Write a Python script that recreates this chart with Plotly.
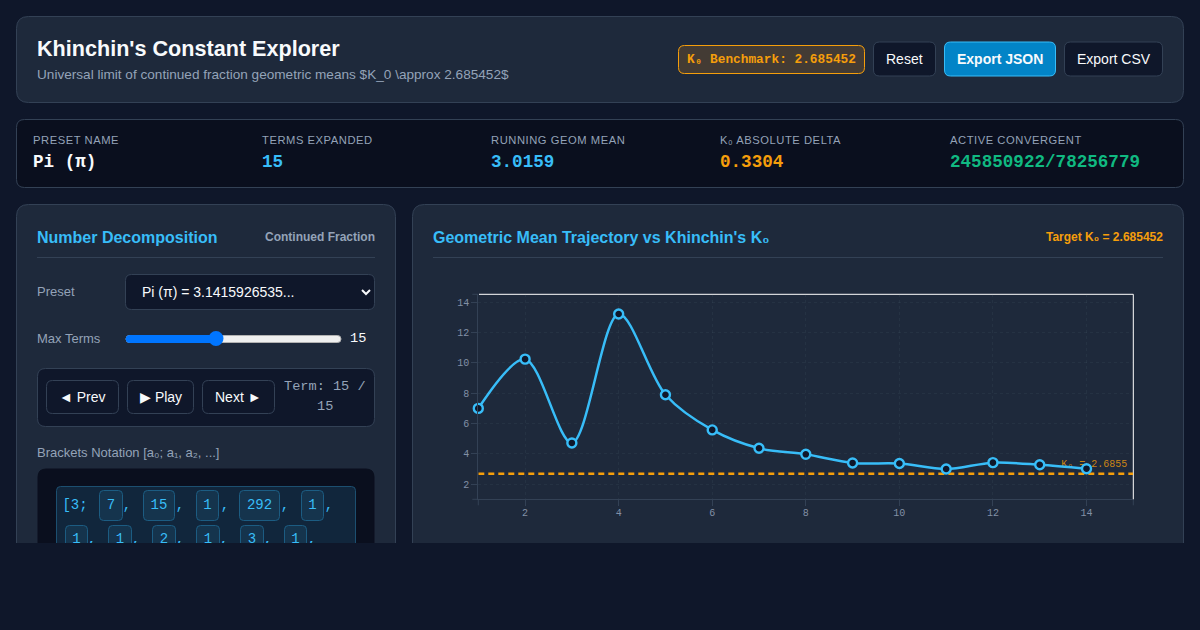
import plotly.graph_objects as go

term_index = list(range(1, 15))
geom_mean = [7.0, 10.25, 4.72, 13.23, 7.9, 5.58, 4.37, 3.97, 3.4, 3.36, 3.0, 3.42, 3.28, 3.02]
k0_x = [1, 15]
k0_y = [2.6855, 2.6855]
k0_label = "K₀ = 2.6855"

kpi_labels = ["PRESET NAME", "TERMS EXPANDED", "RUNNING GEOM MEAN", "K₀ ABSOLUTE DELTA", "ACTIVE CONVERGENT"]
kpi_values = ["Pi (π)", "15", "3.0159", "0.3304", "245850922/78256779"]
row1_terms = ["7", "15", "1", "292", "1"]
row2_terms = ["1", "1", "2", "1", "3", "1"]

BG = "#0f172a"
CARD = "#1e293b"
DARK = "#0a0f1e"
NAVY = "#0f172a"
BORDER = "#334155"
BLUE = "#38bdf8"
AMBER = "#f59e0b"
GREEN = "#10b981"
MUTED = "#94a3b8"
SANS = "Liberation Sans"
MONO = "Liberation Mono"

shapes = []
notes = []


def box(x0, y0, x1, y1, r, fill, line=None, width=1):
    path = (f"M {x0+r} {y0} L {x1-r} {y0} Q {x1} {y0} {x1} {y0+r} L {x1} {y1-r} Q {x1} {y1} {x1-r} {y1} "
            f"L {x0+r} {y1} Q {x0} {y1} {x0} {y1-r} L {x0} {y0+r} Q {x0} {y0} {x0+r} {y0} Z")
    shapes.append(dict(type="path", path=path, xref="x", yref="y", fillcolor=fill, layer="below",
                       line=dict(color=line or fill, width=width)))


def seg(x0, y0, x1, y1, color, width=1):
    shapes.append(dict(type="line", x0=x0, y0=y0, x1=x1, y1=y1, xref="x", yref="y", layer="below",
                       line=dict(color=color, width=width)))


def label(x, y, text, size=13, color="#f8fafc", font=SANS, bold=False, anchor="left"):
    if bold:
        text = f"<b>{text}</b>"
    # annotations sit about a pixel inside their anchor
    nudge = {"left": -1, "right": 1, "center": 0}[anchor]
    notes.append(dict(x=x + nudge, y=y, text=text, xref="x", yref="y", xanchor=anchor, yanchor="middle",
                      showarrow=False, borderpad=0, font=dict(size=size, color=color, family=font)))


def button(x0, x1, text, fill=NAVY, line=BORDER, bold=False, y0=42, y1=76):
    box(x0, y0, x1, y1, 6, fill, line)
    label((x0 + x1) / 2, (y0 + y1) / 2, text, 14, "#f8fafc", SANS, bold, "center")


# header
box(16.5, 16.5, 1183.5, 102.5, 12, CARD, BORDER)
label(37, 48, "Khinchin's Constant Explorer", 21.6, "#f8fafc", SANS, True)
label(37, 74, "Universal limit of continued fraction geometric means $K_0 \\approx 2.685452$", 13.6, MUTED)
box(678.5, 45.5, 864.5, 73.5, 6, "#433b34", AMBER)
label(771.5, 59.5, "K₀ Benchmark: 2.685452", 12.8, AMBER, MONO, True, "center")
button(873.5, 935.5, "Reset")
button(944.5, 1055.5, "Export JSON", "#0284c7", BLUE, True)
button(1064.5, 1162.5, "Export CSV")

# stats strip
box(16.5, 119.5, 1183.5, 187.5, 8, DARK, BORDER)
kpi_x = [33, 262, 491, 720, 950]
kpi_colors = ["#f8fafc", BLUE, BLUE, AMBER, GREEN]
for px, name, val, col in zip(kpi_x, kpi_labels, kpi_values, kpi_colors):
    label(px, 140, f'<span style="letter-spacing:0.55px">{name}</span>', 11.2, MUTED)
    label(px, 161.5, val, 17.6, col, MONO, True)

# left panel
box(16.5, 204.5, 395.5, 640, 12, CARD, BORDER)
label(37, 237, "Number Decomposition", 16, BLUE, SANS, True)
label(375, 237, "Continued Fraction", 12, MUTED, SANS, True, "right")
seg(37, 257.5, 375, 257.5, BORDER)
label(37, 291.5, "Preset", 13, MUTED)
box(125.5, 274.5, 374.5, 309.5, 6, NAVY, BORDER)
label(142, 292, "Pi (π) = 3.1415926535...", 14, "#f8fafc")
shapes.append(dict(type="path", path="M 362 290 L 366 294 L 370 290", xref="x", yref="y", layer="below",
                   line=dict(color="#f8fafc", width=2)))
label(37, 338.5, "Max Terms", 13, MUTED)
box(126, 335.5, 341, 342.5, 3.5, "#efefef", "#b2b2b2")
box(126, 335.5, 216, 342.5, 3.5, "#0075ff", "#0075ff")
shapes.append(dict(type="circle", x0=208.5, x1=223.5, y0=331, y1=346, xref="x", yref="y", layer="below",
                   fillcolor="#0075ff", line=dict(color="#0075ff", width=0)))
label(350, 338, "15", 13.6, "#f8fafc", MONO)
box(37.5, 368.5, 374.5, 426.5, 8, NAVY, BORDER)
button(46.5, 118.5, "◄ Prev", y0=380.5, y1=413.5)
button(127.5, 193.5, "▶ Play", y0=380.5, y1=413.5)
button(202.5, 274.5, "Next ►", y0=380.5, y1=413.5)
label(324.5, 386, "Term: 15 /", 13.6, MUTED, MONO, anchor="center")
label(324.5, 406, "15", 13.6, MUTED, MONO, anchor="center")
label(37, 452.5, "Brackets Notation [a₀; a₁, a₂, ...]", 13, MUTED)
box(38, 469, 374, 640, 8, DARK)
box(56.5, 486.5, 355.5, 640, 4, "#11263c", "#1c4f70")

row1_edges = [(99.5, 122.5), (143.5, 174.5), (196.5, 218.5), (239.5, 279.5), (301.5, 323.5)]
row2_edges = [(65.5, 87.5), (108.5, 131.5), (152.5, 175.5), (196.5, 219.5), (240.5, 263.5), (284.5, 306.5)]
for x0, x1 in row1_edges:
    box(x0, 490.5, x1, 520.5, 4, "#15344d", "#1c5c82")
for x0, x1 in row2_edges:
    box(x0, 525.5, x1, 600, 4, "#15344d", "#1c5c82")

# chart panel
box(412.5, 204.5, 1183.5, 640, 12, CARD, BORDER)
label(433, 237, "Geometric Mean Trajectory vs Khinchin's K₀", 16, BLUE, SANS, True)
label(1163, 237, "Target K₀ = 2.685452", 12, AMBER, SANS, True, "right")
seg(433, 257.5, 1163, 257.5, BORDER)

# outer ticks and the stray white edges of the chart frame
seg(472.3, 294.3, 478.3, 294.3, BORDER)
seg(472.3, 499.3, 478.3, 499.3, BORDER)
seg(478.3, 499.3, 478.3, 505.3, BORDER)
seg(1133.3, 499.3, 1133.3, 505.3, BORDER)
seg(479, 294.3, 1133.3, 294.3, "#ffffff")
seg(1133.3, 294.3, 1133.3, 499.3, "#ffffff")

fig = go.Figure()

# bracket text sits in the clipped page subplot so the second row is cut at the page edge
bx = [75, 111, 159, 207.5, 259.5, 312.5] + [76.5, 120, 164, 208, 252, 295.5]
by = [505] * 6 + [539.5] * 6
fig.add_trace(go.Scatter(x=bx, y=by, mode="text", text=["[3;"] + row1_terms + row2_terms,
                         textfont=dict(family=MONO, size=14, color=BLUE), xaxis="x", yaxis="y",
                         hoverinfo="skip", showlegend=False))
cx = [127, 180, 225, 285, 329, 92, 136, 180, 224, 268, 312]
cy = [505] * 5 + [539.5] * 6
fig.add_trace(go.Scatter(x=cx, y=cy, mode="text", text=[","] * 11,
                         textfont=dict(family=MONO, size=14, color=BLUE), xaxis="x", yaxis="y",
                         hoverinfo="skip", showlegend=False))

fig.add_trace(go.Scatter(x=[14.87], y=[3.27], mode="text", text=[k0_label], textposition="middle left",
                         textfont=dict(family=MONO, size=10, color="rgba(245,158,11,0.8)"),
                         xaxis="x2", yaxis="y2", hoverinfo="skip", showlegend=False, cliponaxis=False))
fig.add_trace(go.Scatter(x=k0_x, y=k0_y, mode="lines", line=dict(color=AMBER, width=2.4, dash="6px,4px"),
                         xaxis="x2", yaxis="y2", hoverinfo="skip", showlegend=False, cliponaxis=False))
fig.add_trace(go.Scatter(x=term_index, y=geom_mean, mode="lines+markers",
                         line=dict(color=BLUE, width=2.5, shape="spline", smoothing=0.9),
                         marker=dict(size=9, color=NAVY, line=dict(color=BLUE, width=2.4)),
                         xaxis="x2", yaxis="y2", showlegend=False, cliponaxis=False))

axis_style = dict(showline=True, linecolor=BORDER, linewidth=1, ticks="outside", ticklen=6, tickcolor=BORDER,
                  tickfont=dict(family=MONO, size=10, color="#8290a6"), showgrid=True,
                  gridcolor="rgba(148,163,184,0.07)", griddash="dot", zeroline=False, fixedrange=True)

fig.update_layout(
    width=1200, height=630, margin=dict(l=0, r=0, t=0, b=0, pad=0),
    paper_bgcolor=BG, plot_bgcolor="rgba(0,0,0,0)", showlegend=False, hovermode=False,
    xaxis=dict(domain=[0, 1], range=[0, 1200], visible=False, fixedrange=True),
    yaxis=dict(domain=[(630 - 543) / 630, 1], range=[543, 0], visible=False, fixedrange=True),
    xaxis2=dict(domain=[478.3 / 1200, 1133.3 / 1200], range=[1, 15], tickvals=list(range(2, 15, 2)),
                ticklabelstandoff=-2, anchor="y2", **axis_style),
    yaxis2=dict(domain=[(630 - 499.3) / 630, (630 - 294.3) / 630], range=[1, 14.53], tickvals=list(range(2, 15, 2)),
                anchor="x2", **axis_style),
    shapes=shapes, annotations=notes,
)

# plotly forces geometricPrecision on its svg, the original is ordinary hinted page text
page_css = ("document.body.style.margin='0';document.body.style.background='#0f172a';"
            "var s=document.createElement('style');s.textContent='.main-svg text{text-rendering:auto !important}';"
            "document.head.appendChild(s);")
fig.write_html("out.html", config=dict(displayModeBar=False), post_script=page_css)
